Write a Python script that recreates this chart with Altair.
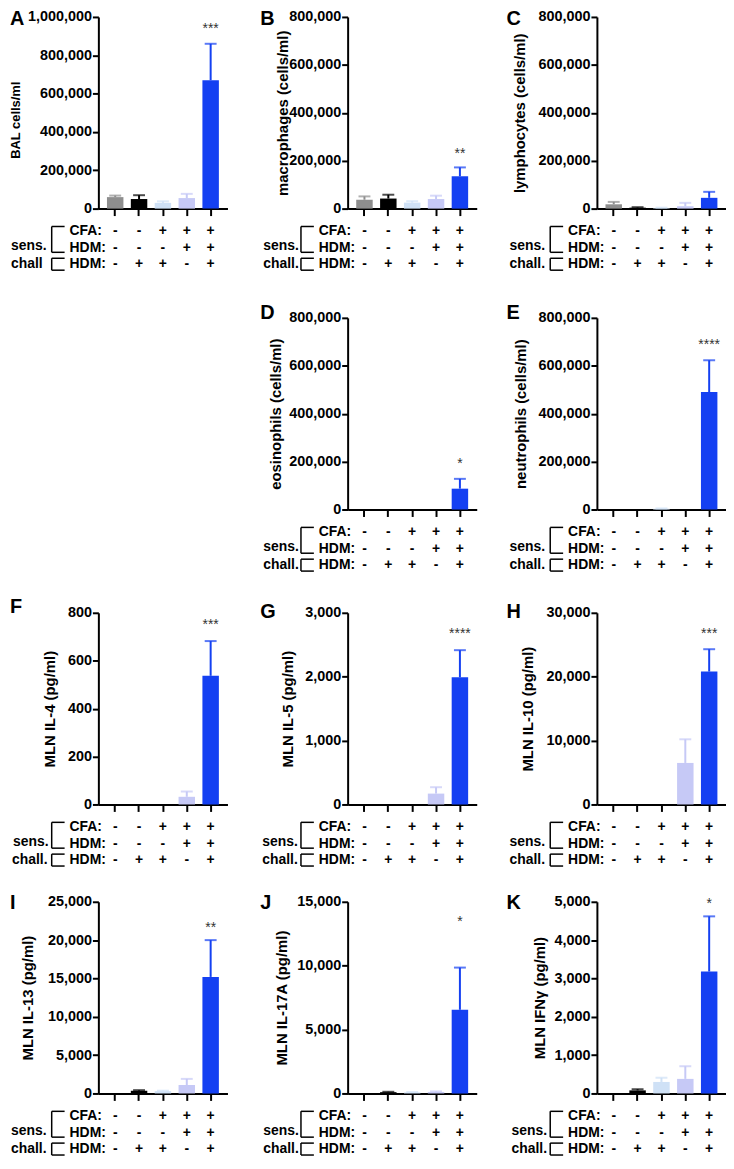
import altair as alt
import pandas as pd

FONT = "Liberation Sans"

# ---------------- data ----------------
groups = ["g1", "g2", "g3", "g4", "g5"]
bar_colors = ["#8e8e8e", "#000000", "#cfe1f6", "#c6c9f6", "#1440f2"]

cfa_row = ["-", "-", "+", "+", "+"]
hdm_sens_row = ["-", "-", "-", "+", "+"]
hdm_chall_row = ["-", "+", "+", "-", "+"]

letters = ["A", "B", "C", "D", "E", "F", "G", "H", "I", "J", "K"]
y_titles = [
    "BAL cells/ml", "macrophages (cells/ml)", "lymphocytes (cells/ml)",
    "eosinophils (cells/ml)", "neutrophils (cells/ml)",
    "MLN IL-4 (pg/ml)", "MLN IL-5 (pg/ml)", "MLN IL-10 (pg/ml)",
    "MLN IL-13 (pg/ml)", "MLN IL-17A (pg/ml)", "MLN IFNγ (pg/ml)",
]
y_ticks = [
    [0, 200000, 400000, 600000, 800000, 1000000],
    [0, 200000, 400000, 600000, 800000],
    [0, 200000, 400000, 600000, 800000],
    [0, 200000, 400000, 600000, 800000],
    [0, 200000, 400000, 600000, 800000],
    [0, 200, 400, 600, 800],
    [0, 1000, 2000, 3000],
    [0, 10000, 20000, 30000],
    [0, 5000, 10000, 15000, 20000, 25000],
    [0, 5000, 10000, 15000],
    [0, 1000, 2000, 3000, 4000, 5000],
]
means = [
    [60000, 50000, 30000, 55000, 670000],
    [37000, 42000, 25000, 40000, 135000],
    [18000, 4000, 2000, 10000, 45000],
    [0, 0, 0, 0, 87000],
    [0, 0, 3000, 0, 490000],
    [0, 0, 0, 32, 537],
    [0, 0, 0, 170, 1990],
    [0, 0, 0, 6500, 20800],
    [0, 350, 300, 1100, 15200],
    [0, 100, 80, 120, 6550],
    [0, 80, 300, 380, 3180],
]
sems = [
    [8000, 20000, 8000, 22000, 190000],
    [14000, 16000, 6000, 14000, 37000],
    [10000, 2000, 2000, 14000, 25000],
    [0, 0, 0, 0, 41000],
    [0, 0, 1500, 0, 133000],
    [0, 0, 0, 22, 145],
    [0, 0, 0, 100, 425],
    [0, 0, 0, 3700, 3500],
    [0, 80, 60, 800, 4800],
    [0, 30, 30, 40, 3300],
    [0, 30, 110, 330, 1440],
]
stars = ["***", "**", "", "*", "****", "***", "****", "***", "**", "*", "*"]
star_levels = [938000, 228000, 0, 190000, 685000, 750, 2660, 26600, 21560, 13450, 4950]
chall_labels = ["chall", "chall.", "chall.", "chall.", "chall.", "chall.",
                "chall.", "chall.", "chall.", "chall.", "chall."]

# ---------------- layout / style ----------------
W, H = 130, 193
title_x = [-79, -61, -73, -68, -72, -44, -56, -65, -66, -62, -53]
title_fs = [13, 15, 15, 15, 15, 15, 15, 15, 15, 15, 15]
title_dy = [7, 0, 0, 0, 0, 0, 0, 0, 0, 0, 0]
letter_dy = [8, 8, 8, 1, 1, 0, 5, 5, 7, 7, 7]
letter_x = [-89, -88, -91, -88, -91, -89, -88, -91, -89, -88, -91]
sens_x = [-88, -85, -88, -85, -88, -86, -86, -88, -88, -85, -86]
chall_x = [-88, -85, -88, -85, -88, -87, -86, -88, -88, -85, -86]
one = pd.DataFrame({"k": [0]})


def rule(x1, x2, y1, y2):
    return alt.Chart(one).mark_rule(color="black", strokeWidth=1.5).encode(
        x=alt.value(x1), x2=alt.value(x2), y=alt.value(y1), y2=alt.value(y2))


def label(txt, x, y, size=14, align="left", baseline="middle"):
    return alt.Chart(one).mark_text(
        text=txt, font=FONT, fontSize=size, fontWeight="bold", color="black",
        align=align, baseline=baseline).encode(x=alt.value(x), y=alt.value(y))


def panel(i):
    df = pd.DataFrame({
        "grp": groups,
        "mean": means[i],
        "hi": [m + s for m, s in zip(means[i], sems[i])],
        "sem": sems[i],
    })
    xs = alt.X("grp:N", sort=groups, title=None,
               scale=alt.Scale(domain=groups, paddingInner=0.31, paddingOuter=0.36),
               axis=alt.Axis(labels=False, title=None, tickSize=7))
    yscale = alt.Scale(domain=[0, y_ticks[i][-1]], nice=False, zero=True)
    yaxis = alt.Axis(values=y_ticks[i], format=",d", title=y_titles[i],
                     titleX=title_x[i], titleY=H / 2 + title_dy[i], titleAngle=270,
                     titleBaseline="alphabetic", titleAlign="center",
                     titleFontSize=title_fs[i])
    col = alt.Color("grp:N", scale=alt.Scale(domain=groups, range=bar_colors), legend=None)

    bars = alt.Chart(df).mark_bar().encode(
        x=xs, y=alt.Y("mean:Q", scale=yscale, axis=yaxis, title=y_titles[i]), color=col)
    errdf = df[df["sem"] > 0]
    err = alt.Chart(errdf).mark_rule(strokeWidth=2).encode(
        x=xs, y=alt.Y("mean:Q", scale=yscale, axis=yaxis, title=y_titles[i]),
        y2="hi:Q", color=col)
    cap = alt.Chart(errdf).mark_tick(thickness=2, size=12).encode(
        x=xs, y=alt.Y("hi:Q", scale=yscale, axis=yaxis, title=y_titles[i]), color=col)
    layers = [bars, err, cap]
    if stars[i]:
        sdf = pd.DataFrame({"grp": ["g5"], "lvl": [star_levels[i]], "txt": [stars[i]]})
        layers.append(alt.Chart(sdf).mark_text(
            font=FONT, fontSize=14, color="#333333", baseline="middle").encode(
            x=xs, y=alt.Y("lvl:Q", scale=yscale, axis=yaxis, title=y_titles[i]),
            text="txt:N"))
    # condition table
    for vals, dy in [(cfa_row, 23), (hdm_sens_row, 40), (hdm_chall_row, 56)]:
        tdf = pd.DataFrame({"grp": groups, "sym": vals})
        layers.append(alt.Chart(tdf).mark_text(
            font=FONT, fontSize=14, fontWeight="bold", color="black",
            baseline="middle").encode(x=xs, y=alt.value(H + dy), text="sym:N"))
    layers += [
        label("CFA:", -29, H + 23),
        label("HDM:", -29, H + 40),
        label("HDM:", -29, H + 56),
        label("sens.", sens_x[i], H + 38),
        label(chall_labels[i], chall_x[i], H + 56),
        rule(-47, -47, H + 18, H + 44),
        rule(-47, -34, H + 18, H + 18),
        rule(-47, -34, H + 44, H + 44),
        rule(-47, -47, H + 50, H + 62),
        rule(-47, -34, H + 50, H + 50),
        rule(-47, -34, H + 62, H + 62),
        label(letters[i], letter_x[i], letter_dy[i], size=20, baseline="alphabetic"),
    ]
    return alt.layer(*layers).properties(width=W, height=H)


# empty slot: invisible marker keeps the row's left edge in line with the others
blank = alt.Chart(one).mark_point(opacity=0, size=4).encode(
    x=alt.value(-88), y=alt.value(H / 2)).properties(width=W, height=H)

p = [panel(i) for i in range(11)]
COLSP = 121


def row(*cells):
    return alt.hconcat(*cells, spacing=COLSP, bounds="flush")


r1 = row(p[0], p[1], p[2])
r2 = row(blank, p[3], p[4])
r3 = row(p[5], p[6], p[7])
r4 = row(p[8], p[9], p[10])

chart = alt.vconcat(
    r1,
    alt.vconcat(r2, alt.vconcat(r3, r4, spacing=26), spacing=25),
    spacing=32,
).properties(
    padding={"left": 2, "top": -3, "right": 0, "bottom": 0}
).configure_view(stroke=None).configure_axis(
    grid=False, domainColor="black", domainWidth=2, tickColor="black", tickWidth=2,
    labelFont=FONT, labelFontWeight="bold", labelFontSize=14.5, labelColor="black",
    titleFont=FONT, titleFontWeight="bold", titleColor="black",
).configure_axisY(tickSize=6, labelPadding=1)

chart.save("out.html", embed_options={"renderer": "svg", "actions": False})
